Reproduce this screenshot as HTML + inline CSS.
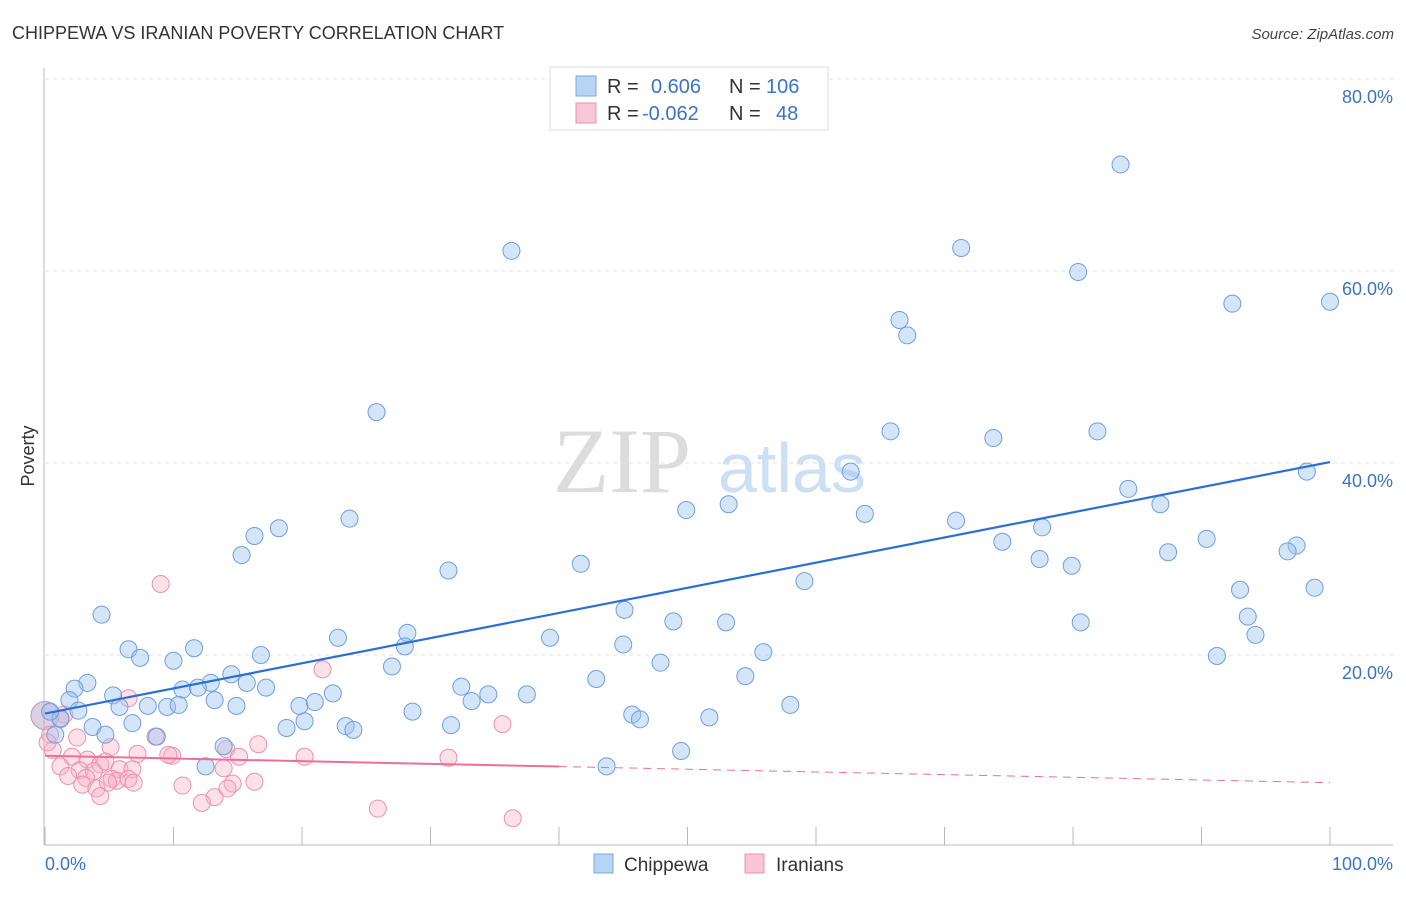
<!DOCTYPE html>
<html><head><meta charset="utf-8"><style>
body{margin:0;background:#fff;font-family:"Liberation Sans",sans-serif}
</style></head><body>
<svg id="chart" width="1406" height="892" xmlns="http://www.w3.org/2000/svg" font-family="Liberation Sans, sans-serif">
<text x="12" y="39" font-size="18" fill="#333">CHIPPEWA VS IRANIAN POVERTY CORRELATION CHART</text>
<text x="1394" y="39" font-size="15" fill="#444" font-style="italic" text-anchor="end">Source: ZipAtlas.com</text>
<g>
<text x="553" y="492" font-size="92" fill="#dcdcdc" style="font-family:'Liberation Serif',serif">ZIP</text>
<text x="718" y="492" font-size="70" fill="#cddff4">atlas</text>
</g>
<g id="grid"></g>
<g id="axes"></g>
<g id="marks"></g>
<text transform="translate(34,456) rotate(-90)" font-size="18" fill="#333" text-anchor="middle">Poverty</text>
<g>
<rect x="550" y="67" width="278" height="63" fill="#fff" stroke="#ddd"/>
<rect x="576" y="76" width="20" height="20" fill="#b8d4f5" stroke="#7aa8e0"/>
<text x="607" y="93" font-size="20" fill="#333">R = </text><text x="651" y="93" font-size="20" fill="#3b73c8">0.606</text>
<text x="729" y="93" font-size="20" fill="#333">N = </text><text x="766" y="93" font-size="20" fill="#3b73c8">106</text>
<rect x="576" y="103" width="20" height="20" fill="#f8c6d6" stroke="#ea92b0"/>
<text x="607" y="120" font-size="20" fill="#333">R = </text><text x="642" y="120" font-size="20" fill="#3b73c8">-0.062</text>
<text x="729" y="120" font-size="20" fill="#333">N = </text><text x="776" y="120" font-size="20" fill="#3b73c8">48</text>
</g>
<g>
<rect x="594" y="854" width="19" height="19" fill="#b8d4f5" stroke="#7aa8e0"/>
<text x="624" y="871" font-size="19" fill="#333">Chippewa</text>
<rect x="745" y="854" width="19" height="19" fill="#f8c6d6" stroke="#ea92b0"/>
<text x="776" y="871" font-size="19" fill="#333">Iranians</text>
</g>
</svg>
<script>
const yTicks=[20,40,60,80];
const yTickLabels=["20.0%","40.0%","60.0%","80.0%"];
const xTicks=[0,10,20,30,40,50,60,70,80,90,100];
const xEndLabels=["0.0%","100.0%"];
const chipX=[83.7,36.3,71.3,80.4,92.4,100,66.5,67.1,25.8,65.8,73.8,81.9,62.7,98.2,84.3,86.8,49.9,53.2,63.8,70.9,23.7,18.2,16.3,15.3,74.5,77.6,90.4,87.4,97.4,96.7,77.4,79.9,41.7,31.4,59.1,93.0,98.8,45.1,4.4,93.6,80.6,48.9,53.0,39.3,22.8,28.2,28.0,45.0,94.2,6.5,11.6,7.4,10.0,16.8,55.9,47.9,91.2,27.0,14.5,54.5,3.3,42.9,2.3,12.9,15.7,10.7,11.9,17.2,5.3,22.4,32.4,34.5,37.5,1.9,8.0,5.8,9.5,10.4,14.9,13.2,19.8,21.0,33.2,58.0,2.6,28.6,45.7,46.3,51.7,20.2,23.4,24.0,31.6,18.8,3.7,6.8,0.8,4.7,8.7,13.9,49.5,12.5,43.7,1.2,0.4];
const chipY=[71.1,62.1,62.4,59.9,56.6,56.8,54.9,53.3,45.3,43.3,42.6,43.3,39.1,39.1,37.3,35.7,35.1,35.7,34.7,34.0,34.2,33.2,32.4,30.4,31.8,33.3,32.1,30.7,31.4,30.8,30.0,29.3,29.5,28.8,27.7,26.8,27.0,24.7,24.2,24.0,23.4,23.5,23.4,21.8,21.8,22.3,20.9,21.1,22.1,20.6,20.7,19.7,19.4,20.0,20.3,19.2,19.9,18.8,18.0,17.8,17.1,17.5,16.5,17.1,17.1,16.4,16.6,16.6,15.8,16.0,16.7,15.9,15.9,15.3,14.7,14.6,14.6,14.8,14.7,15.3,14.7,15.1,15.2,14.8,14.2,14.1,13.8,13.3,13.5,13.1,12.6,12.2,12.7,12.4,12.5,12.9,11.7,11.7,11.5,10.5,10.0,8.4,8.4,13.4,14.1];
const iranX=[9.0,21.6,6.5,1.5,1.2,0.4,2.5,0.6,8.6,16.6,0.2,2.1,3.3,4.3,5.1,7.2,9.9,14.1,15.1,20.2,31.4,35.6,1.2,2.7,3.8,4.7,5.8,6.8,1.8,3.2,5.2,5.6,6.5,6.9,2.9,4.0,4.9,10.7,14.6,16.3,13.2,4.3,12.2,14.2,13.9,25.9,36.4,9.6];
const iranY=[27.4,18.5,15.5,13.8,13.3,11.7,11.4,10.1,11.5,10.7,10.9,9.4,9.1,8.6,10.4,9.7,9.5,10.2,9.4,9.4,9.3,12.8,8.4,8.0,7.9,8.9,8.1,8.1,7.4,7.2,7.1,6.9,7.1,6.7,6.5,6.1,6.7,6.4,6.6,6.8,5.2,5.3,4.6,6.1,8.2,4.0,3.0,9.6];
const chipFit=[13.9,40.1];
const iranFit=[9.5,6.7];
const iranSolidEnd=40;

const NS="http://www.w3.org/2000/svg";
const X0=45,X1=1330,Y0=847,Y80=79;
const xs=v=>X0+(X1-X0)*v/100;
const ys=v=>Y0-(Y0-Y80)*v/80;
function mk(tag,attrs,parent){const e=document.createElementNS(NS,tag);for(const k in attrs)e.setAttribute(k,attrs[k]);document.getElementById(parent).appendChild(e);return e;}
yTicks.forEach((t,i)=>{
 const g=mk('line',{x1:45,x2:1393,y1:ys(t),y2:ys(t),stroke:'#e2e2e2','stroke-dasharray':'4,4'},'grid');
 
 
 const l=mk('text',{x:1393,y:ys(t)+24,'font-size':18,fill:'#3b73c8','text-anchor':'end'},'axes');
 l.textContent=yTickLabels[i];
 
 
});
const ax=mk('line',{x1:44,x2:44,y1:68,y2:845,stroke:'#bbb'},'axes');


const bx=mk('line',{x1:44,x2:1393,y1:845,y2:845,stroke:'#bbb'},'axes');


xTicks.forEach(t=>{
 const k=mk('line',{x1:xs(t),x2:xs(t),y1:827,y2:845,stroke:'#bbb'},'axes');
 
 
});
const xl0=mk('text',{x:45,y:870,'font-size':18,fill:'#3b73c8'},'axes');xl0.textContent=xEndLabels[0];


const xl1=mk('text',{x:1393,y:870,'font-size':18,fill:'#3b73c8','text-anchor':'end'},'axes');xl1.textContent=xEndLabels[1];



const big=mk('circle',{cx:xs(0),cy:ys(13.7),r:14,fill:'rgba(190,160,200,0.5)',stroke:'#b09ac0'},'marks');


iranX.forEach((v,i)=>{
 const c=mk('circle',{cx:xs(v),cy:ys(iranY[i]),r:8.5,fill:'rgba(246,175,198,0.38)',stroke:'#ea92b0','stroke-width':1},'marks');
 
 
});
chipX.forEach((v,i)=>{
 const c=mk('circle',{cx:xs(v),cy:ys(chipY[i]),r:8.5,fill:'rgba(155,192,238,0.42)',stroke:'#6f9fdc','stroke-width':1},'marks');
 
 
});
const ib=v=>iranFit[0]+(iranFit[1]-iranFit[0])*v/100;
const l1=mk('line',{x1:xs(0),y1:ys(ib(0)),x2:xs(iranSolidEnd),y2:ys(ib(iranSolidEnd)),stroke:'#ec6f98','stroke-width':2},'marks');


const l2=mk('line',{x1:xs(iranSolidEnd),y1:ys(ib(iranSolidEnd)),x2:xs(100),y2:ys(ib(100)),stroke:'#ec6f98','stroke-width':1,'stroke-dasharray':'8,6'},'marks');


const l3=mk('line',{x1:xs(0),y1:ys(chipFit[0]),x2:xs(100),y2:ys(chipFit[1]),stroke:'#2a6fd6','stroke-width':2.2},'marks');


</script>
</body></html>
